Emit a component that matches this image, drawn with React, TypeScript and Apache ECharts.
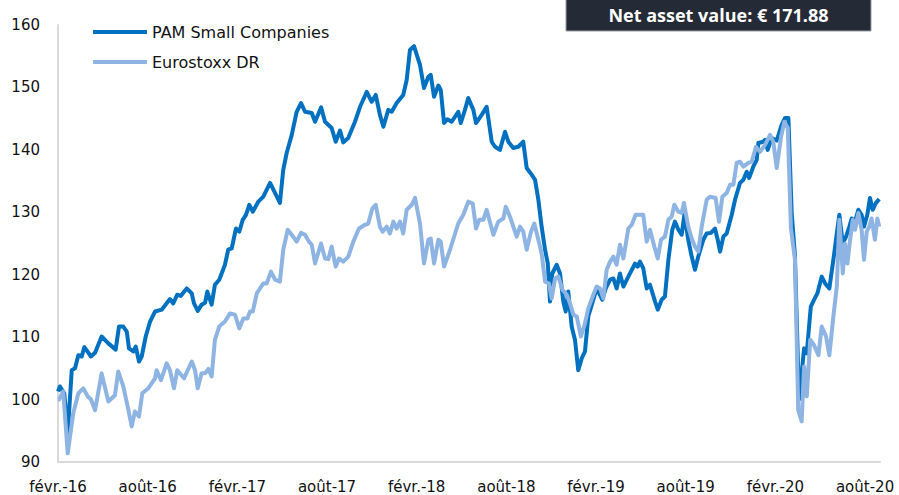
import React, { useEffect, useRef } from "react";
import * as echarts from "echarts";

// x values are months elapsed since February 2016
const tickLabels = ["févr.-16", "août-16", "févr.-17", "août-17", "févr.-18", "août-18", "févr.-19", "août-19", "févr.-20", "août-20"];
const navLabel = "Net asset value: € 171.88";

const pamMonths = [0,0.13,0.42,0.65,0.92,1.14,1.36,1.59,1.76,2.21,
2.48,2.92,3.37,3.86,4.08,4.37,4.60,4.75,5.04,5.20,
5.42,5.60,5.87,6.16,6.49,6.94,7.49,7.71,7.98,8.21,
8.61,8.95,9.10,9.35,9.61,9.84,9.99,10.28,10.50,10.79,
11.17,11.39,11.62,11.91,12.13,12.36,12.58,12.80,13.03,13.40,
13.74,14.19,14.52,14.85,15.07,15.30,15.64,15.97,16.26,16.53,
16.98,17.20,17.60,17.87,18.31,18.58,18.87,19.09,19.42,19.87,
20.21,20.66,20.99,21.26,21.54,21.77,22.10,22.33,22.66,23.10,
23.33,23.55,23.82,24.22,24.49,24.78,24.94,25.16,25.45,25.61,
25.83,26.05,26.34,26.78,26.95,27.23,27.45,27.79,27.97,28.35,
28.68,29.02,29.24,29.57,29.91,30.13,30.46,30.80,31.13,31.36,
31.70,31.92,32.14,32.36,32.59,32.77,32.92,33.07,33.37,33.59,
33.81,33.97,34.14,34.37,34.59,34.81,35.04,35.26,35.48,35.82,
36.04,36.42,36.65,36.94,37.16,37.38,37.60,37.83,38.16,38.61,
38.79,38.94,39.16,39.39,39.61,39.95,40.13,40.39,40.61,40.84,
41.10,41.28,41.51,41.73,41.91,42.17,42.40,42.62,42.84,43.18,
43.40,43.69,43.96,44.14,44.30,44.52,44.74,45.08,45.30,45.63,
45.86,46.08,46.24,46.52,46.75,46.86,47.19,47.31,47.49,47.75,
48.09,48.42,48.65,48.87,49.09,49.31,49.58,49.76,49.92,50.10,
50.37,50.59,50.81,51.10,51.33,51.61,51.88,52.11,52.28,52.51,
52.73,52.95,53.11,53.33,53.55,53.77,53.93,54.15,54.33,54.51,
54.73,54.95];

const pamValues = [101.3,102.1,101,94.6,104.7,105,107.1,106.9,108.4,106.9,
107.5,110.1,109.0,108.0,111.7,111.7,110.9,108.2,107.7,108.5,
106.1,106.9,110.1,112.5,114.1,114.4,116.1,115.4,116.8,116.6,
117.8,117.0,115.4,114.2,115.2,115.5,117.3,115.2,118.4,119.2,
121.6,124.0,124.2,127.4,126.9,128.8,129.6,131.2,130.1,131.7,
132.5,134.7,133.1,131.5,136.8,139.5,142.4,146.1,147.5,146.1,
145.9,144.5,146.8,144.5,143.5,141.3,143.1,141.2,141.9,144.5,
146.9,149.3,147.7,148.8,145.6,143.7,146.4,146.1,147.5,148.8,
151.2,156.0,156.6,153.6,149.9,151.7,152.0,148.5,150.3,149.6,
144.3,144.9,144.5,146.1,144.3,146.4,148.3,146.4,144.3,145.6,
146.9,141.3,140.5,140.0,142.9,141.3,140.3,140.5,141.3,137.1,
136.0,135.2,132.0,127.7,124.0,121.8,115.7,120.2,121.6,120.2,
115.7,114.1,117.3,111.7,109.6,104.7,106.6,107.7,113.3,116.0,
117.8,116.0,117.8,119.2,119.4,117.8,120.2,118.1,119.7,121.8,
121.3,122.1,121.0,117.8,118.4,115.7,114.4,116.0,116.5,122.4,
127.2,128.5,127.2,126.4,129.6,125.6,122.9,120.8,122.9,125.6,
126.6,126.7,127.4,125.6,123.7,126.1,126.6,129.6,132.0,134.7,
135.2,136.5,135.5,137.3,138.4,141.1,141.3,141.6,140.0,141.9,
141.5,144.0,145.1,145.1,130,123,100,104.2,108.2,107.4,
114.9,116.0,117.0,119.7,118.6,117.8,122.4,126.6,129.6,125.0,
126.1,127.7,129.0,128.5,130.4,129.6,127.7,129.6,132.3,130.4,
131.5,132.1];

const euroMonths = [0,0.07,0.35,0.65,1.02,1.36,1.69,1.99,2.21,2.48,
2.92,3.37,3.81,4.03,4.37,4.66,4.93,5.15,5.42,5.64,
6.04,6.49,6.60,6.89,7.27,7.49,7.76,7.98,8.43,8.95,
9.17,9.35,9.61,9.84,10.06,10.28,10.50,10.79,11.17,11.51,
11.84,12.13,12.40,12.67,12.85,13.03,13.30,13.74,13.96,14.25,
14.52,14.85,15.07,15.37,15.64,15.97,16.26,16.53,16.79,16.98,
17.20,17.60,17.87,18.09,18.31,18.58,18.80,19.09,19.42,19.76,
20.14,20.54,20.76,21.03,21.26,21.54,21.73,21.99,22.21,22.44,
22.66,22.88,23.10,23.33,23.67,23.89,24.22,24.49,24.78,24.94,
25.16,25.45,25.61,25.83,26.23,26.78,27.12,27.45,27.75,27.97,
28.19,28.46,28.68,29.13,29.46,29.80,29.96,30.24,30.69,30.91,
31.13,31.36,31.65,31.87,32.14,32.36,32.59,32.85,33.03,33.26,
33.48,33.75,34.04,34.26,34.48,34.71,34.99,35.26,35.48,35.82,
36.04,36.27,36.49,36.71,36.94,37.16,37.38,37.60,37.83,38.16,
38.39,38.65,39.16,39.39,39.61,39.90,40.13,40.35,40.61,40.84,
41.06,41.24,41.51,41.73,41.88,42.17,42.40,42.62,42.84,43.07,
43.40,43.62,44.00,44.23,44.45,44.74,44.97,45.19,45.41,45.63,
45.86,46.19,46.42,46.70,46.97,47.31,47.64,47.86,48.09,48.38,
48.60,48.83,49.04,49.31,49.53,49.76,49.92,50.10,50.33,50.59,
50.88,51.10,51.39,51.61,51.88,52.11,52.28,52.51,52.66,52.82,
53.00,53.18,53.33,53.55,53.77,53.93,54.11,54.28,54.44,54.66,
54.82,54.95];

const euroValues = [100,100,101.3,91.4,97.8,101.0,101.8,100.5,100,98.3,
104.2,99.7,100.7,104.5,102.1,98.9,95.7,98.1,97.3,101.0,
101.8,103.4,104.7,103.1,105.8,104.7,101.8,104.7,103.4,106.1,
104.7,101.8,104.2,104.2,104.9,103.7,109.6,111.7,112.5,113.8,
113.6,111.4,113.0,113.0,114.1,114.1,117.0,118.6,118.6,120.5,
119.2,118.9,124.0,127.2,126.4,125.3,126.7,126.4,125.3,124.8,
121.8,125.0,122.6,122.5,124.5,121.3,122.6,122.1,122.9,125.3,
127.4,128.0,128.2,130.6,131.2,127.7,126.9,127.7,126.6,128.5,
127.4,128.5,126.6,130.4,131.2,132.3,128.2,121.8,125.6,125.8,
121.8,125.6,125.3,121.3,124.0,128.2,129.6,131.7,131.4,127.4,
128.8,128.8,130.4,126.4,128.5,129.0,130.9,129.3,126.1,127.7,
126.9,124.0,126.9,128.2,125.6,123.4,118.9,118.6,116.2,119.4,
119.7,117.6,116.8,115.4,113.6,113.3,110.1,112.2,114.6,116.8,
118.1,117.8,116.2,120.8,122.1,122.9,121.6,124.8,122.6,127.4,
128.0,129.6,129.6,125.3,127.2,124.5,122.6,125.6,126.1,128.8,
129.3,131.2,130.1,129.9,131.5,127.7,125.8,124.5,123.7,127.7,
132.0,132.5,132.3,128.5,132.5,133.1,134.4,134.4,137.9,138.1,
137.3,137.9,138.1,140.5,139.7,140.8,142.4,141.3,137.1,142.1,
144.5,143.5,127.5,122.4,98.3,96.5,105.3,100.5,109.6,108.7,
107.1,111.7,110.1,107.1,113.3,118.1,128.8,120.2,125.0,121.8,
125.6,128.8,127.2,129.9,127.2,122.4,126.9,127.7,129.0,125.6,
129.0,127.7];

const seriesNames = ["PAM Small Companies", "Eurostoxx DR"];
const seriesColors = ["#0070C0", "#8DB4E2"];

export default function App() {
  const ref = useRef<HTMLDivElement | null>(null);
  useEffect(() => {
    if (!ref.current) return;
    const chart = echarts.init(ref.current, undefined, { renderer: "svg" });
    const font = "DejaVu Sans";
    const pamData = pamMonths.map((m, i) => [m, pamValues[i]]);
    const euroData = euroMonths.map((m, i) => [m, euroValues[i]]);
    chart.setOption({
      animation: false,
      backgroundColor: "#ffffff",
      grid: { left: 58, right: 19, top: 25, bottom: 33, containLabel: false },
      legend: {
        orient: "vertical",
        left: 93,
        top: 24,
        padding: 0,
        itemGap: 14,
        itemWidth: 54,
        itemHeight: 4,
        icon: "rect",
        textStyle: { fontFamily: font, fontSize: 16, color: "#111" },
        data: seriesNames,
      },
      xAxis: {
        type: "value",
        min: 0,
        max: 55,
        interval: 6,
        axisLine: { show: true, lineStyle: { color: "#D9D9D9", width: 2 } },
        axisTick: { show: false },
        splitLine: { show: false },
        axisLabel: {
          fontFamily: font,
          fontSize: 15,
          color: "#111",
          margin: 17,
          showMaxLabel: false,
          formatter: (v: number) => {
            const i = Math.round(v / 6);
            return Math.abs(v - i * 6) < 1e-6 && tickLabels[i] ? tickLabels[i] : "";
          },
        },
      },
      yAxis: {
        type: "value",
        min: 90,
        max: 160,
        interval: 10,
        axisLine: { show: true, lineStyle: { color: "#D9D9D9", width: 2 } },
        axisTick: { show: false },
        splitLine: { show: false },
        axisLabel: { fontFamily: font, fontSize: 15, color: "#111", margin: 18 },
      },
      series: [
        {
          name: seriesNames[0],
          type: "line",
          data: pamData,
          showSymbol: false,
          symbol: "none",
          color: seriesColors[0],
          lineStyle: { width: 4, color: seriesColors[0], join: "round" },
        },
        {
          name: seriesNames[1],
          type: "line",
          data: euroData,
          showSymbol: false,
          symbol: "none",
          color: seriesColors[1],
          lineStyle: { width: 4, color: seriesColors[1], join: "round" },
        },
      ],
      graphic: [
        {
          type: "rect",
          shape: { x: 566, y: -1, width: 305, height: 32 },
          style: { fill: "#252B36", stroke: "#9A9EA6", lineWidth: 1 },
        },
        {
          type: "text",
          x: 718.5,
          y: 15,
          style: {
            text: navLabel,
            fill: "#FFFFFF",
            font: "bold 18px 'Open Sans', sans-serif",
            textAlign: "center",
            textVerticalAlign: "middle",
          },
        },
      ],
    });
    return () => chart.dispose();
  }, []);
  return <div ref={ref} style={{ position: "fixed", left: 0, top: 0, width: 899, height: 495 }} />;
}
